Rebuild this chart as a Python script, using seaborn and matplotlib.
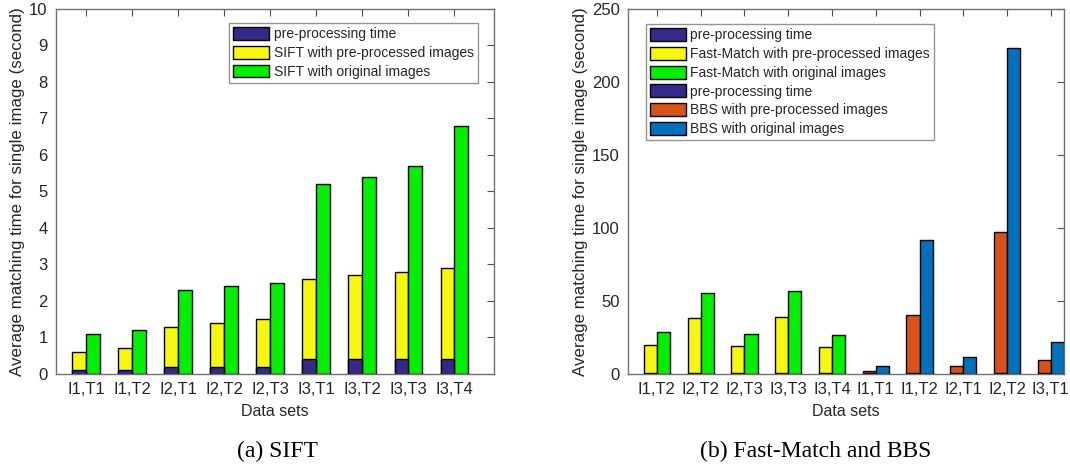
import matplotlib
matplotlib.use("Agg")
import matplotlib.pyplot as plt
from matplotlib.patches import Patch
import numpy as np
import pandas as pd
import seaborn as sns

# ---- SIFT timings (seconds per image) ----
sift_sets = ["I1,T1", "I1,T2", "I2,T1", "I2,T2", "I2,T3", "I3,T1", "I3,T2", "I3,T3", "I3,T4"]
sift_pre = [0.1, 0.1, 0.2, 0.2, 0.2, 0.4, 0.4, 0.4, 0.4]
sift_processed = [0.6, 0.7, 1.3, 1.4, 1.5, 2.6, 2.7, 2.8, 2.9]
sift_original = [1.1, 1.2, 2.3, 2.4, 2.5, 5.2, 5.4, 5.7, 6.8]

# ---- Fast-Match and BBS timings (seconds per image) ----
fm_sets = ["I1,T2", "I2,T2", "I2,T3", "I3,T3", "I3,T4"]
fm_pre = [0.5, 0.5, 0.5, 0.5, 0.5]
fm_processed = [20.0, 38.1, 19.2, 39.3, 18.3]
fm_original = [29.0, 55.3, 27.2, 56.6, 26.5]

bbs_sets = ["I1,T1", "I1,T2", "I2,T1", "I2,T2", "I3,T1"]
bbs_pre = [0.5, 0.5, 0.5, 0.5, 0.5]
bbs_processed = [2.3, 40.2, 5.3, 97.3, 9.6]
bbs_original = [5.3, 91.6, 11.6, 223.3, 21.7]

NAVY = "#352a87"
YELLOW = "#f7f70e"
GREEN = "#00f000"
ORANGE = "#d95319"
BLUE = "#0072bd"
INK = "#262626"

sns.set_theme(style="white")
plt.rcParams["font.family"] = ["Liberation Sans", "DejaVu Sans"]
plt.rcParams["text.color"] = INK
plt.rcParams["axes.labelcolor"] = INK
plt.rcParams["xtick.color"] = INK
plt.rcParams["ytick.color"] = INK

KINDS = ["processed", "original"]


def frame(positions, processed, original):
    rows = []
    for p, a, b in zip(positions, processed, original):
        rows.append({"pos": p, "kind": "processed", "value": a})
        rows.append({"pos": p, "kind": "original", "value": b})
    return pd.DataFrame(rows)


def pre_frame(positions, pre):
    return pd.DataFrame({"pos": positions, "kind": "processed", "value": pre})


def bars(ax, df, order, colors):
    sns.barplot(data=df, x="pos", y="value", hue="kind", order=order,
                hue_order=KINDS, palette=colors, dodge=True, width=0.6,
                errorbar=None, legend=False, edgecolor="black",
                linewidth=1.0, saturation=1, ax=ax)


def style_axes(ax):
    for s in ax.spines.values():
        s.set_visible(True)
        s.set_color("#707070")
        s.set_linewidth(1.0)
    ax.tick_params(axis="both", which="both", direction="in", length=5,
                   top=True, right=True, labelsize=12, width=0.8,
                   color="#505050", pad=6)
    ax.set_xlabel("Data sets", fontsize=11.5, labelpad=5)
    ax.set_ylabel("Average matching time for single image (second)",
                  fontsize=12.2, labelpad=3)


def legend(ax, handles, labels, loc, anchor):
    leg = ax.legend(handles, labels, loc=loc, bbox_to_anchor=anchor,
                    fontsize=10, frameon=True, fancybox=False, shadow=False,
                    handlelength=2.6, handleheight=1.05, labelspacing=0.33,
                    handletextpad=0.3, borderpad=0.3, borderaxespad=0)
    leg.get_frame().set_edgecolor("#7a7a7a")
    leg.get_frame().set_linewidth(1.0)


fig = plt.figure(figsize=(10.70, 4.76), dpi=100)
ax1 = fig.add_axes([0.0523, 0.2143, 0.4094, 0.7668])
ax2 = fig.add_axes([0.5869, 0.2143, 0.4075, 0.7668])

# ---- (a) SIFT ----
pos1 = list(range(len(sift_sets)))
bars(ax1, frame(pos1, sift_processed, sift_original), pos1, [YELLOW, GREEN])
bars(ax1, pre_frame(pos1, sift_pre), pos1, [NAVY, NAVY])
ax1.set_xticks(pos1)
ax1.set_xticklabels(sift_sets)
ax1.set_xlim(-0.65, 8.86)
ax1.set_ylim(0, 10)
ax1.set_yticks(range(0, 11))
style_axes(ax1)
legend(ax1,
       [Patch(facecolor=c, edgecolor="black", linewidth=1.0) for c in (NAVY, YELLOW, GREEN)],
       ["pre-processing time", "SIFT with pre-processed images", "SIFT with original images"],
       "upper right", (0.963, 0.962))

# ---- (b) Fast-Match and BBS ----
all_sets = fm_sets + bbs_sets
pos2 = list(range(len(all_sets)))
fm_pos = pos2[:len(fm_sets)]
bbs_pos = pos2[len(fm_sets):]
bars(ax2, frame(fm_pos, fm_processed, fm_original), pos2, [YELLOW, GREEN])
bars(ax2, frame(bbs_pos, bbs_processed, bbs_original), pos2, [ORANGE, BLUE])
bars(ax2, pre_frame(pos2, fm_pre + bbs_pre), pos2, [NAVY, NAVY])
ax2.set_xticks(pos2)
ax2.set_xticklabels(all_sets)
ax2.set_xlim(-0.66, 9.3)
ax2.set_ylim(0, 250)
ax2.set_yticks(range(0, 251, 50))
style_axes(ax2)
legend(ax2,
       [Patch(facecolor=c, edgecolor="black", linewidth=1.0)
        for c in (NAVY, YELLOW, GREEN, NAVY, ORANGE, BLUE)],
       ["pre-processing time", "Fast-Match with pre-processed images",
        "Fast-Match with original images", "pre-processing time",
        "BBS with pre-processed images", "BBS with original images"],
       "upper left", (0.041, 0.959))

# sub-figure captions
fig.text(0.259, 0.052, "(a) SIFT", ha="center", va="center",
         fontsize=17, family=["Liberation Serif", "DejaVu Serif"], color="black")
fig.text(0.762, 0.052, "(b) Fast-Match and BBS", ha="center", va="center",
         fontsize=17, family=["Liberation Serif", "DejaVu Serif"], color="black")

fig.savefig("out.png", dpi=100)
